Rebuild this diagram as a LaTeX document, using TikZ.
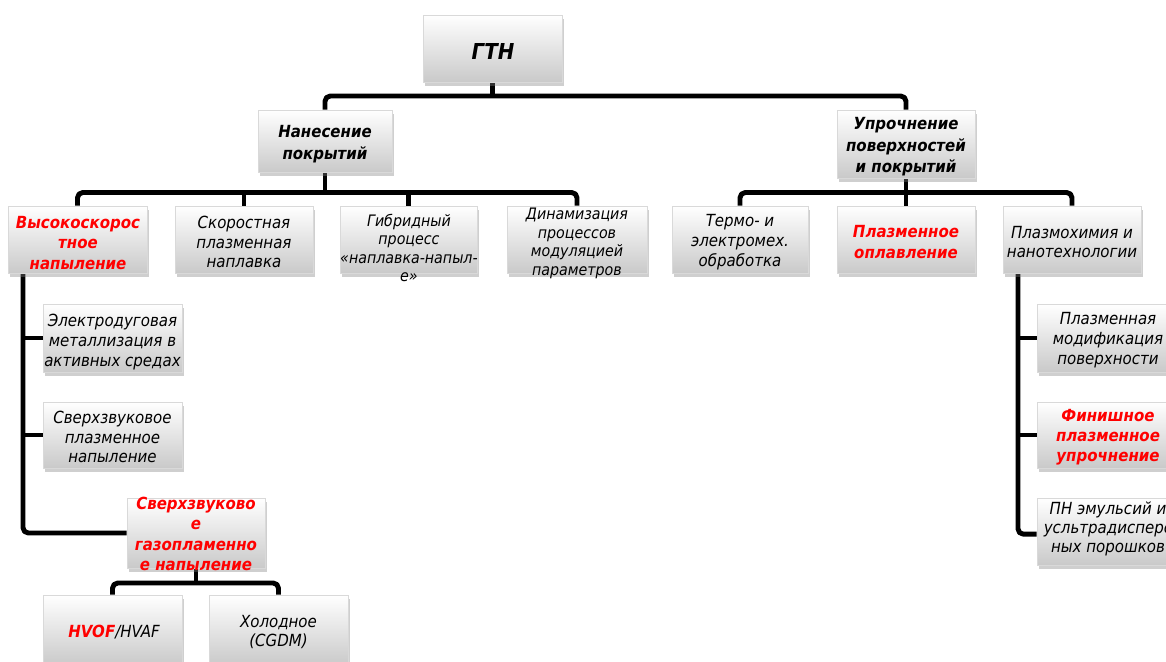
\documentclass[tikz,border=0pt]{standalone}
\usepackage{fontspec}
\setmainfont{DejaVu Sans Condensed}
\usetikzlibrary{shadows,backgrounds}
\definecolor{rd}{RGB}{255,0,0}
\tikzset{
  box/.style={draw=gray!30, line width=0.4pt, top color=white, bottom color=gray!42,
    inner sep=0pt, minimum width=2.76cm, minimum height=1.34cm,
    drop shadow={shadow xshift=1pt, shadow yshift=-2.4pt, opacity=0.38}},
  txt/.style={align=center, inner sep=0pt, font=\itshape\fontsize{9.5}{11.3}\selectfont},
  smalltxt/.style={align=center, inner sep=0pt, font=\itshape\fontsize{9}{10.6}\selectfont},
  redtxt/.style={align=center, inner sep=0pt, text=rd, font=\bfseries\itshape\fontsize{9.5}{11.5}\selectfont},
  hdrtxt/.style={align=center, inner sep=0pt, font=\bfseries\itshape\fontsize{9.5}{12.2}\selectfont},
  conn/.style={line width=2.8pt, rounded corners=3pt, line join=round}
}
\begin{document}
\begin{tikzpicture}[x=0.02cm, y=-0.02cm]
\useasboundingbox (0,0) rectangle (1166,662);
% boxes
\node[box, minimum width=2.78cm] (gtn) at (492.5,48.5) {};
\node[box, minimum width=2.68cm, minimum height=1.24cm] (nan) at (325,141) {};
\node[box, minimum height=1.36cm] (upr) at (906,144) {};
\node[box, minimum width=2.78cm] (vys) at (77.5,239.5) {};
\node[box] (sko) at (244,239.5) {};
\node[box, minimum width=2.74cm] (gib) at (408.5,239.5) {};
\node[box, minimum width=2.80cm] (din) at (577,239.5) {};
\node[box, minimum width=2.72cm] (ter) at (740,239.5) {};
\node[box] (pla) at (906,239.5) {};
\node[box] (plh) at (1072,239.5) {};
\node[box, minimum width=2.78cm, minimum height=1.36cm] (el) at (112.5,338) {};
\node[box, minimum width=2.78cm, minimum height=1.32cm] (svp) at (112.5,435) {};
\node[box, minimum height=1.40cm] (svg) at (196,533) {};
\node[box, minimum width=2.78cm, minimum height=1.40cm] (hvof) at (112.5,630) {};
\node[box, minimum width=2.78cm, minimum height=1.40cm] (hol) at (278.5,630) {};
\node[box, minimum width=2.78cm, minimum height=1.36cm] (pm) at (1106.5,338) {};
\node[box, minimum width=2.78cm, minimum height=1.32cm] (fin) at (1106.5,435) {};
\node[box, minimum width=2.78cm] (pn) at (1106.5,531.5) {};
% texts
\node[hdrtxt, font=\bfseries\itshape\fontsize{12.5}{14}\selectfont] (gtn-t) at (493,51) {ГТН};
\node[hdrtxt] (nan-t) at (325,144) {Нанесение\\покрытий};
\node[hdrtxt] (upr-t) at (906,147) {Упрочнение\\поверхностей\\и покрытий};
\node[redtxt] (vys-t) at (78,243) {Высокоскорос\\тное\\напыление};
\node[txt] (sko-t) at (244,242) {Скоростная\\плазменная\\наплавка};
\node[smalltxt] (gib-t) at (409,248) {Гибридный\\процесс\\«наплавка-напыл-\\е»};
\node[smalltxt] (din-t) at (577,243.5) {Динамизация\\процессов\\модуляцией\\параметров};
\node[txt] (ter-t) at (740,242) {Термо- и\\электромех.\\обработка};
\node[redtxt] (pla-t) at (906,242) {Плазменное\\оплавление};
\node[txt] (plh-t) at (1072,242) {Плазмохимия и\\нанотехнологии};
\node[txt] (el-t) at (112.5,342) {Электродуговая\\металлизация в\\активных средах};
\node[txt] (svp-t) at (112.5,437) {Сверхзвуковое\\плазменное\\напыление};
\node[redtxt, font=\bfseries\itshape\fontsize{9.5}{11.6}\selectfont] (svg-t) at (196,534) {Сверхзвуково\\е\\газопламенно\\е напыление};
\node[txt] (hvof-t) at (114,632) {\textcolor{rd}{\bfseries HVOF}/HVAF};
\node[txt] (hol-t) at (278.5,632) {Холодное\\(CGDM)};
\node[txt] (pm-t) at (1108,340) {Плазменная\\модификация\\поверхности};
\node[redtxt] (fin-t) at (1108,437) {Финишное\\плазменное\\упрочнение};
\node[txt, font=\itshape\fontsize{9.5}{10.6}\selectfont] (pn-t) at (1108,529) {ПН эмульсий и\\усльтрадисперс\\ных порошков};
% connector levels
\coordinate (b1) at (0,96);
\coordinate (b2) at (0,192.5);
\coordinate (b3) at (0,583);
\coordinate (lc) at (23,0);
\coordinate (rc) at (1018,0);
\begin{scope}[on background layer]
\draw[conn] (gtn.south) -- (gtn.south |- b1);
\draw[conn] (nan.north) -- (nan.north |- b1) -- (upr.north |- b1) -- (upr.north);
\draw[conn] (nan.south) -- (nan.south |- b2);
\draw[conn] (vys.north) -- (vys.north |- b2) -- (din.north |- b2) -- (din.north);
\draw[conn] (sko.north) -- (sko.north |- b2);
\draw[conn] (gib.north) -- (gib.north |- b2);
\draw[conn] (upr.south) -- (upr.south |- b2);
\draw[conn] (ter.north) -- (ter.north |- b2) -- (plh.north |- b2) -- (plh.north);
\draw[conn] (pla.north) -- (pla.north |- b2);
\draw[conn] (vys.south -| lc) -- (svg.west -| lc) -- (svg.west);
\draw[conn] (el.west -| lc) -- (el.west);
\draw[conn] (svp.west -| lc) -- (svp.west);
\draw[conn] (svg.south) -- (svg.south |- b3);
\draw[conn] (hvof.north) -- (hvof.north |- b3) -- (hol.north |- b3) -- (hol.north);
\draw[conn] (plh.south -| rc) -- ([yshift=-1.5pt]pn.west -| rc) -- ([yshift=-1.5pt]pn.west);
\draw[conn] (pm.west -| rc) -- (pm.west);
\draw[conn] (fin.west -| rc) -- (fin.west);
\end{scope}
\end{tikzpicture}
\end{document}
